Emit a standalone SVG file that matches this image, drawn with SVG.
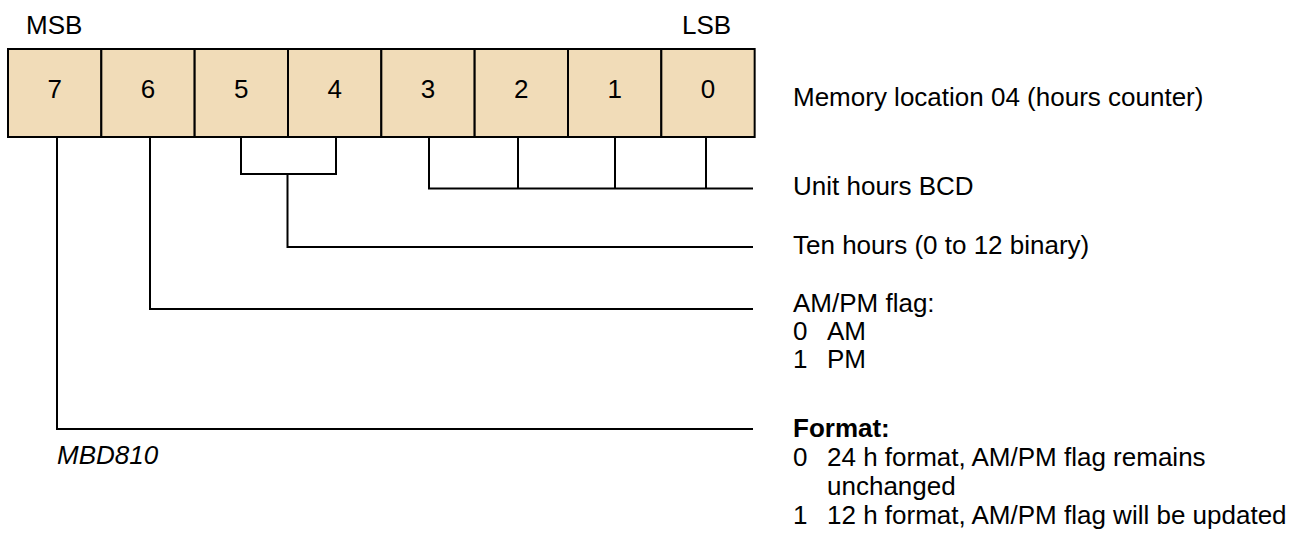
<svg xmlns="http://www.w3.org/2000/svg" width="1306" height="538" viewBox="0 0 1306 538">
  <style>
    text { font-family: "Liberation Sans", Arial, sans-serif; font-size: 26px; fill: #000; }
    .cell { fill: #F1DCB8; stroke: #000; stroke-width: 2; }
    .digit { text-anchor: middle; }
    .wire { fill: none; stroke: #000; stroke-width: 2; stroke-linejoin: miter; }
    .bold { font-weight: bold; }
    .code { font-style: italic; }
  </style>
  <rect width="1306" height="538" fill="#fff"/>

  <!-- bit order markers -->
  <text id="msb" x="26" y="34">MSB</text>
  <text id="lsb" x="682" y="34">LSB</text>

  <!-- register cells, bit 7 (MSB) to bit 0 (LSB) -->
  <g id="bit7"><rect class="cell" x="8" y="49" width="93.33" height="88"/><text class="digit" x="54.7" y="98">7</text></g>
  <g id="bit6"><rect class="cell" x="101.33" y="49" width="93.33" height="88"/><text class="digit" x="148" y="98">6</text></g>
  <g id="bit5"><rect class="cell" x="194.67" y="49" width="93.33" height="88"/><text class="digit" x="241.3" y="98">5</text></g>
  <g id="bit4"><rect class="cell" x="288" y="49" width="93.33" height="88"/><text class="digit" x="334.7" y="98">4</text></g>
  <g id="bit3"><rect class="cell" x="381.33" y="49" width="93.33" height="88"/><text class="digit" x="428" y="98">3</text></g>
  <g id="bit2"><rect class="cell" x="474.67" y="49" width="93.33" height="88"/><text class="digit" x="521.3" y="98">2</text></g>
  <g id="bit1"><rect class="cell" x="568" y="49" width="93.33" height="88"/><text class="digit" x="614.7" y="98">1</text></g>
  <g id="bit0"><rect class="cell" x="661.33" y="49" width="93.33" height="88"/><text class="digit" x="708" y="98">0</text></g>

  <!-- field connectors -->
  <g id="connectors">
    <path class="wire" d="M429 137 V188.5 H753"/>
    <path class="wire" d="M518 137 V188.5"/>
    <path class="wire" d="M615 137 V188.5"/>
    <path class="wire" d="M706 137 V188.5"/>
    <path class="wire" d="M241 137 V174 H336 V137"/>
    <path class="wire" d="M287.5 174 V247 H753"/>
    <path class="wire" d="M150 137 V309 H753"/>
    <path class="wire" d="M57 137 V429 H753"/>
  </g>

  <!-- field descriptions -->
  <g id="label-register"><text x="793" y="106">Memory location 04 (hours counter)</text></g>
  <g id="label-units"><text x="793" y="194.5">Unit hours BCD</text></g>
  <g id="label-tens"><text x="793" y="254">Ten hours (0 to 12 binary)</text></g>
  <g id="label-ampm">
    <text x="793" y="312">AM/PM flag:</text>
    <text x="793" y="340">0</text><text x="827" y="340">AM</text>
    <text x="793" y="368">1</text><text x="827" y="368">PM</text>
  </g>
  <g id="label-format">
    <text class="bold" x="793" y="437">Format:</text>
    <text x="793" y="466">0</text><text x="827" y="466">24 h format, AM/PM flag remains</text>
    <text x="827" y="495">unchanged</text>
    <text x="793" y="524">1</text><text x="827" y="524">12 h format, AM/PM flag will be updated</text>
  </g>

  <text id="figure-code" class="code" x="57" y="464">MBD810</text>
</svg>
